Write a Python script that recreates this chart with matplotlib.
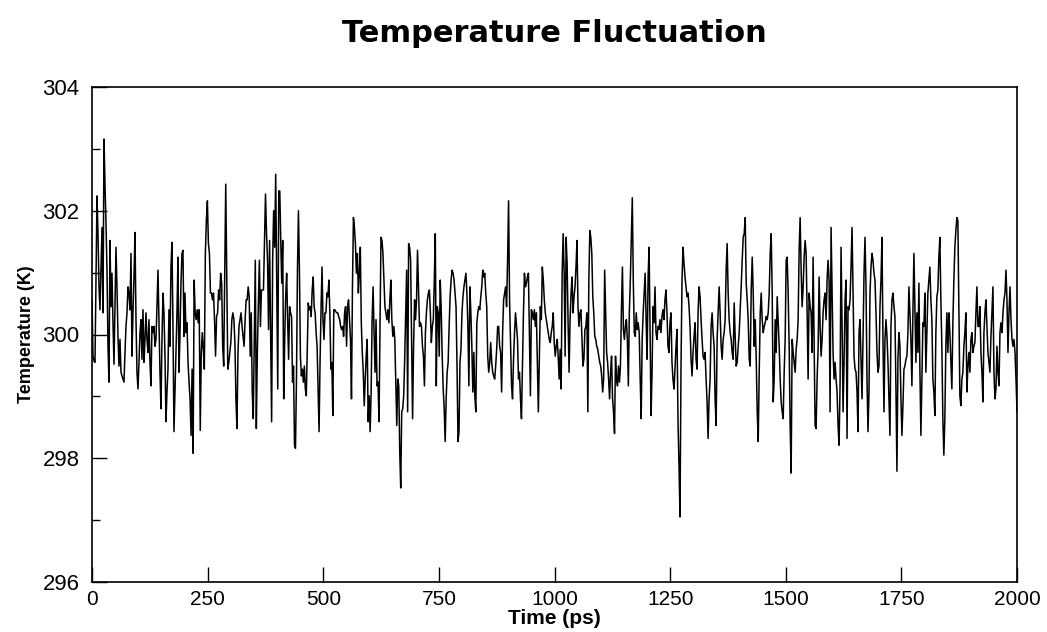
import numpy as np
import matplotlib
matplotlib.use("Agg")
import matplotlib.pyplot as plt
from matplotlib.ticker import MultipleLocator

plt.rcParams['font.family'] = ['Liberation Sans', 'DejaVu Sans']

# Temperature trace (K), stored in consecutive time windows (ps)
window_edges = [0, 201, 406, 612, 817, 1023, 1228, 1434, 1639, 1844, 2000]

temp_w0 = [300.56, 299.65, 299.57, 299.55, 300.88, 302.24, 301.63, 300.77, 300.4, 301.04,
           301.73, 300.35, 303.16, 302.43, 301.79, 301.04, 299.81, 299.23, 301.52, 300.45,
           300.99, 300.19, 299.52, 300.45, 301.41, 300.77, 299.97, 299.49, 299.92, 299.39,
           299.33, 299.28, 299.23, 299.71, 300.13, 300.35, 300.77, 300.67, 300.4, 301.31,
           299.65, 300.35, 300.93, 301.65, 300.24, 299.39, 299.12, 299.55, 300.03, 300.24,
           299.6, 300.4, 299.55, 299.92, 300.35, 299.92, 299.71, 300.24, 299.55, 299.17,
           300.13, 300.03, 300.13, 299.81, 299.92, 300.45, 301.04, 300.24, 299.39, 298.8,
           299.92, 300.67, 300.35, 299.65, 298.59, 299.07, 299.44, 300.4, 299.81, 301.09,
           301.49, 300.13, 298.43, 299.07, 299.65, 300.35, 301.25, 299.39, 299.97, 300.83,
           301.31, 301.36, 299.97]

temp_w1 = [300.67, 300.03, 300.19, 299.55, 299.23, 298.96, 298.37, 299.44, 298.08, 300.88,
           300.35, 300.24, 300.4, 300.19, 300.4, 298.45, 299.71, 300.03, 299.76, 299.44,
           301.31, 301.84, 302.16, 301.47, 301.31, 300.67, 300.67, 300.56, 300.67, 300.24,
           299.65, 300.29, 300.35, 300.72, 300.56, 300.99, 300.83, 299.81, 299.49, 300.93,
           302.43, 300.93, 299.44, 299.55, 299.71, 299.87, 300.24, 300.35, 300.24, 299.87,
           298.96, 298.48, 299.71, 300.13, 300.24, 300.35, 300.13, 299.97, 299.81, 300.24,
           300.56, 300.56, 300.77, 300.61, 299.65, 300.35, 299.07, 298.64, 299.92, 301.2,
           298.48, 299.71, 300.51, 301.2, 300.13, 300.72, 300.72, 300.72, 301.52, 302.27,
           301.63, 301.2, 300.08, 301.52, 300.03, 298.59, 301.2, 302.0, 301.41, 302.59,
           300.88, 299.12, 302.32]

temp_w2 = [302.32, 301.52, 300.83, 301.52, 298.96, 299.92, 300.61, 300.99, 300.24, 299.6,
           300.45, 300.35, 300.29, 299.23, 299.49, 298.21, 298.16, 299.28, 301.04, 302.0,
           301.04, 299.65, 299.33, 299.44, 299.23, 299.49, 299.12, 299.01, 299.76, 300.51,
           300.4, 300.45, 300.29, 300.72, 300.93, 300.45, 300.35, 300.03, 299.81, 299.12,
           298.43, 299.55, 300.4, 301.09, 300.24, 299.92, 300.35, 300.35, 300.67, 300.61,
           300.88, 300.35, 299.44, 299.55, 298.69, 300.4, 300.4, 300.37, 300.35, 300.35,
           300.29, 300.24, 300.13, 300.08, 300.13, 299.97, 300.35, 300.45, 299.81, 300.45,
           300.56, 300.24, 299.92, 298.96, 300.77, 301.89, 301.73, 301.47, 300.99, 301.31,
           300.67, 300.99, 301.41, 300.19, 299.71, 299.39, 298.85, 299.28, 299.65, 299.92,
           298.59, 299.01, 298.43, 299.07, 300.24, 300.77, 300.03]

temp_w3 = [299.39, 300.24, 299.17, 299.23, 298.59, 300.08, 301.57, 301.52, 301.31, 300.88,
           300.45, 300.35, 300.24, 300.4, 300.19, 300.56, 300.88, 300.24, 299.97, 300.13,
           299.92, 299.23, 298.53, 299.28, 299.17, 298.11, 297.52, 298.75, 298.8, 299.01,
           299.6, 300.35, 301.04, 298.75, 301.47, 301.41, 301.2, 299.92, 298.64, 299.81,
           300.56, 300.24, 300.56, 301.36, 300.77, 300.13, 300.19, 300.13, 299.81, 299.65,
           299.17, 300.03, 300.35, 300.56, 300.67, 300.72, 300.35, 299.87, 300.13, 300.24,
           300.88, 301.63, 299.17, 300.45, 300.35, 299.65, 300.88, 300.4, 299.65, 299.12,
           298.8, 298.27, 298.96, 299.39, 299.55, 300.13, 300.61, 300.88, 301.04, 300.99,
           300.88, 300.67, 300.45, 299.49, 298.27, 298.43, 299.55, 299.76, 300.35, 300.61,
           300.77, 300.88, 300.99, 300.67, 300.13, 299.17]

temp_w4 = [300.77, 300.35, 299.81, 299.07, 299.71, 299.01, 298.75, 300.19, 300.35, 300.45,
           300.4, 300.61, 300.77, 301.04, 300.93, 300.99, 300.67, 300.45, 299.65, 299.39,
           299.55, 299.87, 299.55, 299.39, 299.33, 299.28, 299.49, 299.76, 300.13, 300.13,
           299.81, 299.71, 299.07, 300.03, 300.56, 300.67, 300.77, 300.45, 301.2, 302.16,
           300.56, 299.87, 299.17, 298.96, 299.6, 300.03, 300.35, 300.13, 299.92, 299.28,
           299.39, 298.96, 298.64, 299.49, 300.35, 300.99, 300.77, 300.83, 300.93, 300.99,
           300.03, 299.01, 300.4, 300.35, 300.24, 300.4, 300.13, 300.35, 299.55, 298.75,
           299.6, 300.45, 300.24, 301.09, 300.88, 300.56, 300.35, 300.24, 300.13, 300.03,
           299.92, 299.87, 300.03, 300.13, 300.35, 299.87, 299.65, 299.81, 299.92, 299.65,
           299.28, 299.76, 299.12, 300.99, 301.63, 300.99]

temp_w5 = [299.65, 301.57, 301.15, 300.19, 299.39, 300.24, 300.67, 300.93, 300.35, 300.61,
           300.77, 301.09, 301.52, 300.45, 300.13, 300.35, 300.4, 299.92, 299.49, 299.6,
           300.08, 300.13, 300.35, 298.75, 300.88, 301.68, 301.57, 301.31, 300.61, 300.35,
           299.97, 299.92, 299.81, 299.76, 299.65, 299.55, 299.49, 299.33, 299.07, 299.28,
           301.04, 300.35, 299.71, 299.55, 299.28, 298.96, 299.39, 299.65, 298.96, 298.75,
           298.4, 299.65, 299.28, 299.17, 299.49, 299.23, 299.49, 300.4, 301.09, 300.08,
           299.92, 300.13, 300.24, 299.92, 299.17, 300.35, 300.88, 301.52, 302.21, 300.88,
           300.03, 299.97, 300.35, 300.08, 300.19, 300.03, 299.28, 298.64, 299.92, 300.35,
           300.67, 300.99, 300.24, 299.6, 300.93, 301.41, 300.03, 298.69, 299.39, 300.45,
           300.19, 300.77, 300.03, 299.92, 300.13, 300.08]

temp_w6 = [300.24, 300.03, 300.29, 300.4, 300.24, 300.56, 300.72, 300.35, 299.81, 299.71,
           300.19, 300.35, 299.55, 299.28, 299.12, 299.44, 299.81, 300.08, 298.59, 297.89,
           297.05, 299.49, 300.88, 301.41, 301.15, 300.93, 300.77, 300.61, 300.67, 300.45,
           300.13, 299.6, 299.33, 299.71, 299.97, 300.19, 299.6, 299.44, 300.35, 300.77,
           300.61, 300.24, 299.92, 299.65, 299.6, 299.71, 299.28, 298.91, 298.32, 298.96,
           299.28, 300.13, 300.35, 300.03, 299.81, 298.96, 298.53, 299.92, 300.35, 300.77,
           300.35, 299.81, 299.6, 299.92, 300.03, 300.24, 301.04, 301.47, 300.67, 300.24,
           300.03, 299.92, 299.71, 299.6, 300.51, 299.97, 299.49, 299.55, 299.81, 300.03,
           300.4, 300.77, 301.2, 301.57, 301.63, 301.89, 300.83, 300.56, 300.24, 299.6,
           299.49, 300.72, 301.25, 300.67, 299.81]

temp_w7 = [300.24, 299.6, 298.75, 298.27, 299.39, 300.35, 300.67, 300.24, 300.03, 300.13,
           300.19, 300.29, 300.24, 300.35, 300.67, 301.31, 301.63, 300.67, 298.91, 299.28,
           300.24, 299.71, 300.61, 300.19, 299.81, 299.28, 298.91, 298.75, 298.64, 299.39,
           299.92, 301.2, 301.25, 300.67, 299.81, 298.53, 297.76, 299.92, 299.71, 299.55,
           299.39, 299.76, 299.92, 300.24, 301.36, 301.89, 301.04, 300.45, 300.77, 301.25,
           301.52, 301.31, 300.35, 299.28, 300.67, 300.45, 300.35, 299.71, 301.25, 299.81,
           298.53, 298.48, 299.28, 299.76, 300.93, 300.13, 299.65, 299.92, 300.35, 300.56,
           300.67, 300.24, 300.88, 301.2, 300.88, 298.75, 301.73, 300.77, 299.71, 299.28,
           299.55, 299.28, 299.07, 298.53, 298.21, 299.17, 301.41, 300.19, 298.75, 299.55,
           300.56, 300.88, 298.32, 300.45, 300.4]

temp_w8 = [300.56, 301.09, 301.73, 300.67, 299.65, 299.44, 299.39, 299.07, 298.43, 300.03,
           300.24, 299.6, 298.96, 299.92, 300.99, 301.57, 300.77, 299.28, 298.43, 299.07,
           300.67, 301.09, 301.31, 301.2, 300.99, 300.88, 300.35, 299.71, 299.39, 299.49,
           300.45, 300.88, 301.57, 299.92, 298.75, 299.92, 300.24, 299.97, 299.55, 298.96,
           298.37, 300.13, 300.56, 300.67, 300.45, 300.29, 299.12, 297.79, 299.6, 300.03,
           299.81, 298.96, 298.37, 298.85, 299.44, 299.49, 299.6, 299.65, 300.03, 300.77,
           300.35, 299.92, 299.17, 300.35, 301.31, 300.4, 299.55, 300.35, 299.71, 300.83,
           299.44, 298.37, 299.28, 300.19, 300.13, 300.67, 299.39, 300.03, 300.67, 300.88,
           301.09, 300.56, 300.24, 299.28, 299.07, 298.69, 300.03, 300.61, 300.72, 301.25,
           301.57, 300.56, 299.81, 298.64, 298.05]

temp_w9 = [298.64, 299.81, 300.35, 299.71, 300.35, 300.03, 299.55, 299.12, 300.19, 300.88,
           301.41, 301.68, 301.89, 301.84, 300.45, 299.01, 298.85, 299.28, 299.39, 299.81,
           300.03, 300.35, 299.07, 299.49, 299.71, 299.39, 299.92, 300.03, 299.71, 299.81,
           299.87, 300.35, 300.77, 300.13, 300.13, 300.45, 299.71, 299.39, 298.91, 300.03,
           300.35, 300.56, 300.13, 299.71, 299.55, 299.39, 299.97, 300.35, 300.77, 299.39,
           298.96, 299.12, 299.81, 299.39, 299.17, 300.03, 300.19, 300.03, 300.35, 300.56,
           300.67, 301.04, 300.56, 299.71, 300.35, 300.77, 300.24, 299.92, 299.81, 299.92,
           299.71, 299.28, 298.75]

windows = [temp_w0, temp_w1, temp_w2, temp_w3, temp_w4,
           temp_w5, temp_w6, temp_w7, temp_w8, temp_w9]

time_parts = []
for i, seg in enumerate(windows):
    last = i == len(windows) - 1
    time_parts.append(np.linspace(window_edges[i], window_edges[i + 1], len(seg),
                                  endpoint=last))
time_ps = np.concatenate(time_parts)
temperature = np.concatenate([np.asarray(s) for s in windows])

fig = plt.figure(figsize=(10.47, 6.32), dpi=100)
ax = fig.add_axes([92 / 1047, 1 - 582 / 632, (1017 - 92) / 1047, (582 - 87) / 632])

ax.plot(time_ps, temperature, color='black', linewidth=1.1)

ax.set_xlim(0, 2000)
ax.set_ylim(296, 304)
ax.xaxis.set_major_locator(MultipleLocator(250))
ax.yaxis.set_major_locator(MultipleLocator(2))
ax.yaxis.set_minor_locator(MultipleLocator(1))
ax.tick_params(axis='both', which='major', direction='in', length=11, width=1.0,
               labelsize=15, top=False, right=False)
ax.tick_params(axis='y', which='minor', direction='in', length=6, width=1.0, right=False)
ax.tick_params(axis='x', which='major', pad=6)
ax.tick_params(axis='y', which='major', pad=9, labelsize=16)
for s in ax.spines.values():
    s.set_linewidth(1.2)

ax.set_xlabel('Time (ps)', fontsize=15, fontweight='bold', labelpad=0)
ax.set_ylabel('Temperature (K)', fontsize=13, fontweight='bold', labelpad=5)
ax.text(0.5, 1 - 33 / 632, 'Temperature Fluctuation', transform=fig.transFigure,
        ha='center', va='center', fontsize=22, fontweight='bold',
        family=['DejaVu Sans'])
# centre the title over the plotting area rather than the whole figure
ax.texts[-1].set_x((92 + 1017) / 2 / 1047)

fig.savefig('out.png', dpi=100, facecolor='white')
